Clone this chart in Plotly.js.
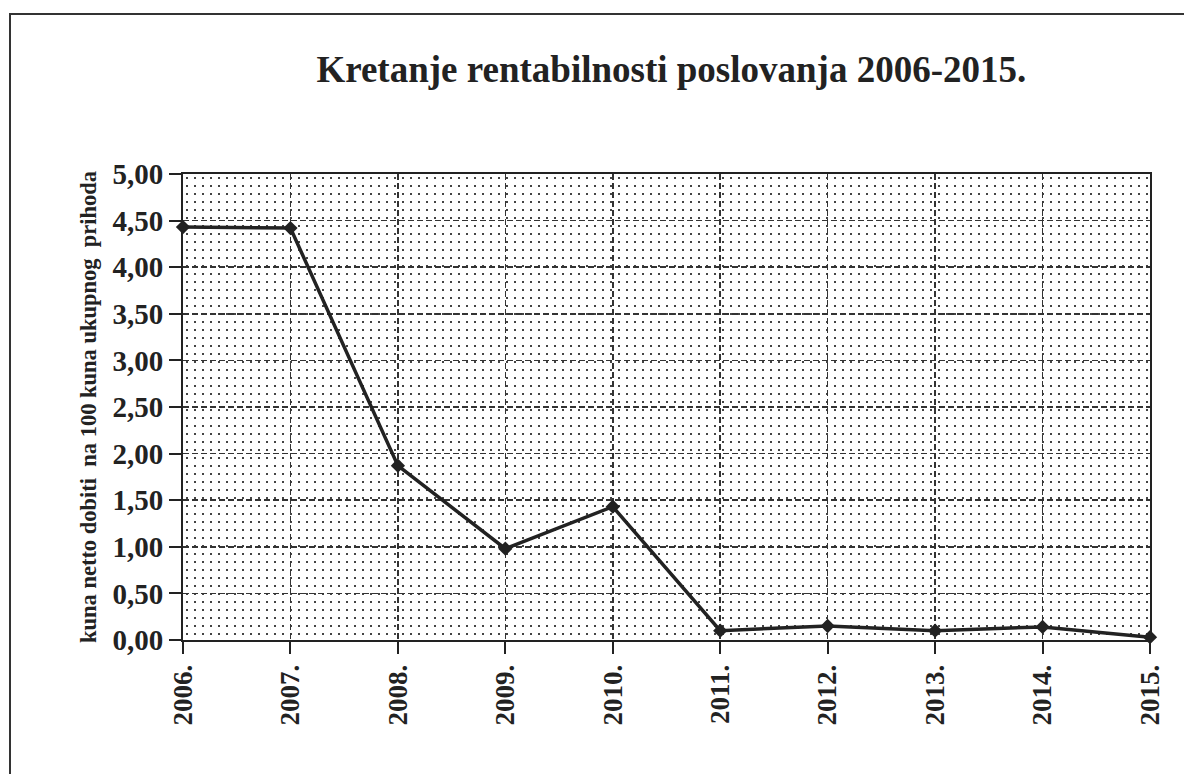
<!DOCTYPE html>
<html>
<head>
<meta charset="utf-8">
<script src="https://cdn.plot.ly/plotly-3.0.1.min.js"></script>
<style>html,body{margin:0;padding:0;background:#fff;}#chart{width:1184px;height:774px;}</style>
</head>
<body>
<div id="chart"></div>
<script>
const years = ["2006.", "2007.", "2008.", "2009.", "2010.", "2011.", "2012.", "2013.", "2014.", "2015."];
const rentabilnost = [4.43, 4.42, 1.87, 0.98, 1.43, 0.10, 0.15, 0.10, 0.14, 0.03];
const yTicks = [0, 0.5, 1, 1.5, 2, 2.5, 3, 3.5, 4, 4.5, 5];

const serif = "Liberation Serif, Times New Roman, serif";
const W = 1184, H = 774;
const mL = 183, mR = 34, mT = 174, mB = 134;
const pw = W - mL - mR, ph = H - mT - mB;

const svg = "<svg xmlns='http://www.w3.org/2000/svg' width='" + pw + "' height='" + ph + "'>" +
  "<defs><pattern id='p' width='8' height='8' patternUnits='userSpaceOnUse'>" +
  "<rect x='3' y='3' width='2' height='2' fill='#444'/></pattern></defs>" +
  "<rect width='100%' height='100%' fill='url(#p)'/></svg>";
const dotSrc = "data:image/svg+xml;charset=utf-8," + encodeURIComponent(svg);

const px2x = p => (p - mL) / pw;
const py2y = p => (H - mB - p) / ph;

const trace = {
  x: years,
  y: rentabilnost,
  type: "scatter",
  mode: "lines+markers",
  line: {color: "#222", width: 3.5},
  marker: {symbol: "diamond", size: 11, color: "#222"},
  cliponaxis: false,
  hoverinfo: "x+y"
};

const layout = {
  width: W, height: H,
  margin: {l: mL, r: mR, t: mT, b: mB},
  paper_bgcolor: "#fff",
  plot_bgcolor: "rgba(0,0,0,0)",
  showlegend: false,
  separators: ", ",
  font: {family: serif, color: "#222", weight: "bold"},
  title: {
    text: "Kretanje rentabilnosti poslovanja 2006-2015.",
    font: {family: serif, size: 37, color: "#222", weight: "bold"},
    x: 0.567, xref: "container", xanchor: "center",
    y: 1 - 69 / H, yref: "container", yanchor: "middle"
  },
  xaxis: {
    type: "category",
    range: [0, years.length - 1],
    tickvals: years,
    ticktext: years,
    tickangle: -90,
    tickfont: {family: serif, size: 27, color: "#222", weight: "bold"},
    ticks: "outside", ticklen: 12, tickwidth: 2, tickcolor: "#222",
    showline: true, linecolor: "#222", linewidth: 2, mirror: true,
    showgrid: true, gridcolor: "#333", gridwidth: 1.5, griddash: "6px,3px",
    zeroline: false
  },
  yaxis: {
    range: [0, 5],
    tickvals: yTicks,
    tickformat: ".2f",
    tickfont: {family: serif, size: 29, color: "#222", weight: "bold"},
    ticks: "outside", ticklen: 12, tickwidth: 2, tickcolor: "#222",
    showline: true, linecolor: "#222", linewidth: 2, mirror: true,
    showgrid: true, gridcolor: "#333", gridwidth: 1.5, griddash: "6px,3px",
    zeroline: false,
    title: {
      text: "kuna netto dobiti  na 100 kuna ukupnog  prihoda",
      font: {family: serif, size: 22.5, color: "#222", weight: "bold"},
      standoff: 10
    }
  },
  images: [{
    source: dotSrc, xref: "paper", yref: "paper",
    x: 0, y: 1, sizex: 1, sizey: 1,
    xanchor: "left", yanchor: "top", sizing: "stretch", layer: "below"
  }],
  shapes: [{
    type: "rect", xref: "paper", yref: "paper",
    x0: px2x(10), x1: px2x(1260), y0: py2y(14), y1: py2y(820),
    line: {color: "#333", width: 2}, fillcolor: "rgba(0,0,0,0)", layer: "above"
  }]
};

Plotly.newPlot("chart", [trace], layout, {displayModeBar: false, staticPlot: true});
</script>
</body>
</html>
